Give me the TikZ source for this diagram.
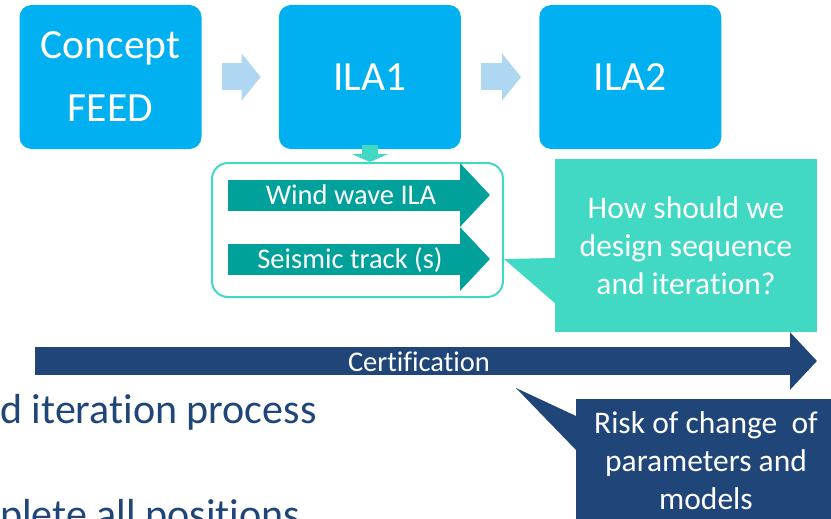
\documentclass[tikz,border=0pt]{standalone}
\usepackage{fontspec}
\setmainfont{Carlito}[Ligatures=NoCommon]
\usetikzlibrary{arrows.meta, positioning}
\definecolor{stageblue}{HTML}{00B0F0}
\definecolor{flowblue}{HTML}{B0D7F2}
\definecolor{turq}{HTML}{41D9C4}
\definecolor{trackteal}{HTML}{00A19A}
\definecolor{navy}{HTML}{1F4579}

\begin{document}
\begin{tikzpicture}[x=1pt, y=-1pt,
  stage/.style={fill=stageblue, rounded corners=12pt, minimum width=182pt, minimum height=144pt,
    text=white, align=center, font=\fontsize{41.5}{63}\selectfont},
  flowarrow/.style={draw=flowblue, line width=27pt, -{Triangle[length=19pt, width=46pt]}},
  droparrow/.style={draw=turq, line width=16pt, -{Triangle[length=8pt, width=36pt]}},
  trackbox/.style={draw=turq, line width=2pt, rounded corners=16pt, minimum width=291pt, minimum height=134pt},
  trackarrow/.style={draw=trackteal, line width=31pt, -{Triangle[length=30pt, width=62pt]}},
  tracklabel/.style={text=white, inner sep=0pt, font=\fontsize{28.5}{32}\selectfont},
  callout/.style={fill=turq, text=white, align=center, minimum width=262pt, minimum height=173pt,
    font=\fontsize{31.5}{38}\selectfont},
  certarrow/.style={draw=navy, line width=28pt, -{Triangle[length=27pt, width=56pt]}},
  riskbox/.style={fill=navy, minimum width=262pt, minimum height=130pt},
  risklabel/.style={text=white, align=center, font=\fontsize{31.5}{38}\selectfont},
  bodytext/.style={text=navy, inner sep=0pt, font=\fontsize{42}{48}\selectfont}]
\useasboundingbox (0,0) rectangle (831,519);

\node[bodytext, anchor=base west] (process) at (0,423) {d iteration process};
\node[bodytext, anchor=base west] (positions) at (0,528) {plete all positions};

\node[stage] (concept) at (110.5,77) {Concept\\FEED};
\node[stage, right=77pt of concept] (ila1) {ILA1};
\node[stage, right=78pt of ila1] (ila2) {ILA2};
\draw[flowarrow] ([xshift=20pt]concept.east) -- ([xshift=-18pt]ila1.west);
\draw[flowarrow] ([xshift=20pt]ila1.east) -- ([xshift=-18pt]ila2.west);

\node[trackbox] (track) at (357.5,230) {};
\draw[droparrow] ([yshift=4pt]ila1.south) -- (ila1.south |- track.north);
\coordinate (windstart) at (228,195);
\coordinate (windend) at (490,195);
\coordinate (seisstart) at (228,259);
\coordinate (seisend) at (490,259);
\draw[trackarrow] (windstart) -- (windend);
\draw[trackarrow] (seisstart) -- (seisend);
\node[tracklabel] (wind) at (351,195) {Wind wave ILA};
\node[tracklabel] (seismic) at (350,260) {Seismic track (s)};

\node[callout] (question) at (686,245.5) {How should we\\design sequence\\and iteration?};
\fill[turq] (question.west |- 0,258) -- (track.east |- seisend) -- (question.west |- 0,303) -- cycle;

\coordinate (certstart) at (35,361);
\coordinate (certend) at (817,361);
\draw[certarrow] (certstart) -- (certend);
\node[tracklabel] (cert) at (419,362) {Certification};

\node[riskbox, anchor=north west] (risk) at (576,399) {};
\fill[navy] (risk.west |- 0,416) -- (516,388) -- (risk.west |- 0,450) -- cycle;
\node[risklabel] (riskText) at (706,461) {Risk of change~ of\\parameters and\\models};
\end{tikzpicture}
\end{document}
